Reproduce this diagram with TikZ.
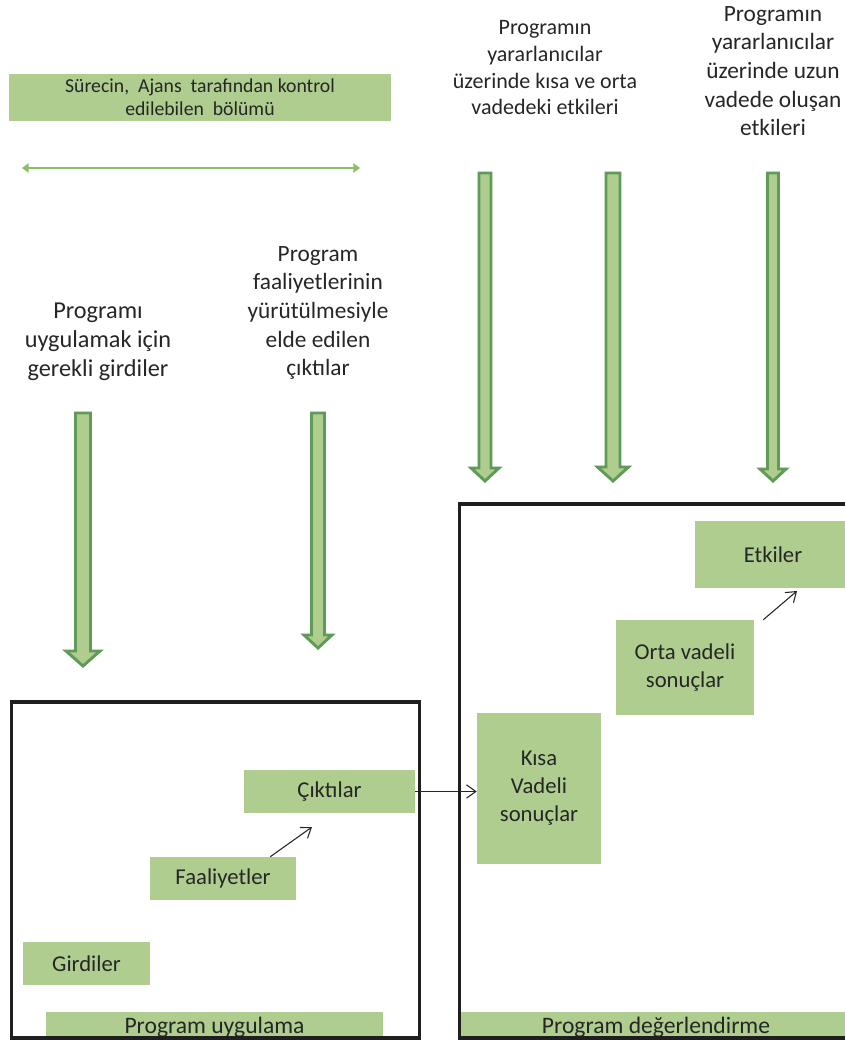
\documentclass[tikz,border=0pt]{standalone}
\usepackage{fontspec}
\setmainfont{Carlito}
\usetikzlibrary{arrows.meta, positioning, calc}
\definecolor{boxgreen}{RGB}{175,205,143}
\definecolor{arrowgreen}{RGB}{96,154,88}
\definecolor{linegreen}{RGB}{140,190,100}
\definecolor{inkgray}{RGB}{38,38,38}

% cx, top, tip, shaft half width, head half width, head length
\newcommand{\blockarrow}[6]{%
  \filldraw[blockarrow] (#1-#4,#2) -- (#1+#4,#2) -- (#1+#4,#3-#6) -- (#1+#5,#3-#6)
    -- (#1,#3) -- (#1-#5,#3-#6) -- (#1-#4,#3-#6) -- cycle;}

\begin{document}
\begin{tikzpicture}[x=0.75pt, y=-0.75pt,
    greenbox/.style={fill=boxgreen, inner sep=0pt, text=inkgray, align=center,
                     font=\fontsize{17}{21}\selectfont},
    boxsize/.style 2 args={minimum width=#1*0.75pt, minimum height=#2*0.75pt},
    captiontext/.style={text=inkgray, align=center, font=\fontsize{17.5}{21.5}\selectfont},
    blockarrow/.style={fill=boxgreen, draw=arrowgreen, line width=2.2pt, miter limit=4},
    framebox/.style={draw=black!88, line width=2.3pt},
    thinarrow/.style={draw=inkgray, line width=0.8pt, -{Straight Barb[length=7pt,width=10pt]}}]
    \clip (0,0) rectangle (845,1043);

    % Top label and range arrow
    \node[greenbox, boxsize={382}{47}, font=\fontsize{14.8}{17.5}\selectfont] (kontrol) at (200,97.5)
        {Sürecin,\ \ Ajans\ \ tarafından kontrol\\ edilebilen\ \ bölümü};
    \coordinate (araliksol) at (22,168);
    \coordinate (araliksag) at (360,168);
    \draw[linegreen, line width=2.2pt, {Triangle[length=5pt,width=7pt]}-{Triangle[length=5pt,width=7pt]}]
        (araliksol) -- (araliksag);

    % Captions
    \node[captiontext, font=\fontsize{18.2}{21.8}\selectfont] (girdimetni) at (98,342) {Programı\\uygulamak için\\gerekli girdiler};
    \node[captiontext] (ciktimetni) at (318,313) {Program\\faaliyetlerinin\\yürütülmesiyle\\elde edilen\\çıktılar};
    \node[captiontext, font=\fontsize{16.5}{20}\selectfont] (kisametni) at (545,68)
        {Programın\\yararlanıcılar\\üzerinde kısa ve orta\\vadedeki etkileri};
    \node[captiontext] (uzunmetni) at (773,71) {Programın\\yararlanıcılar\\üzerinde uzun\\vadede oluşan\\etkileri};

    % Block arrows
    \blockarrow{83}{413}{666}{7.5}{17}{15}
    \blockarrow{318}{413}{648}{6.5}{14}{13}
    \blockarrow{485}{173}{481}{6}{14}{13}
    \blockarrow{613}{173}{481}{7}{15.5}{14}
    \blockarrow{773}{173}{481}{5.5}{13}{12}

    % Program uygulama
    \node[greenbox, boxsize={127}{43}] (girdiler) at (86.5,963.5) {Girdiler};
    \node[greenbox, boxsize={146}{43}] (faaliyetler) at (223,878.5) {Faaliyetler};
    \node[greenbox, boxsize={171}{43}] (ciktilar) at (329.5,791.5) {Çıktılar};
    \node[greenbox, boxsize={337}{26}, text depth=0pt, font=\fontsize{17.7}{21}\selectfont] (uygulama) at (214.5,1025) {Program uygulama};
    \draw[framebox] (11.5,702) rectangle (419.5,1038);

    % Program degerlendirme
    \node[greenbox, boxsize={124}{151}] (kisa) at (539,788.5) {Kısa\\Vadeli\\sonuçlar};
    \node[greenbox, boxsize={138}{95}] (orta) at (685,667.5) {Orta vadeli\\sonuçlar};
    \node[greenbox, boxsize={156}{67}] (etkiler) at (773,554.5) {Etkiler};
    \node[greenbox, boxsize={392}{26}, text depth=0pt, font=\fontsize{17.7}{21}\selectfont] (degerlendirme) at (656,1025) {Program değerlendirme};
    \draw[framebox] (850,504) -- (459.5,504) -- (459.5,1038) -- (850,1038);

    % Connectors
    \coordinate (ciktiucu) at (312,827);
    \coordinate (etkiucu) at (797,591);
    \draw[thinarrow] ($(faaliyetler.north east)+(-26,0)$) -- (ciktiucu);
    \draw[thinarrow] ($(orta.north east)+(9,0)$) -- (etkiucu);
    \draw[thinarrow] (ciktilar.east) -- (ciktilar.east -| kisa.west);
\end{tikzpicture}
\end{document}
